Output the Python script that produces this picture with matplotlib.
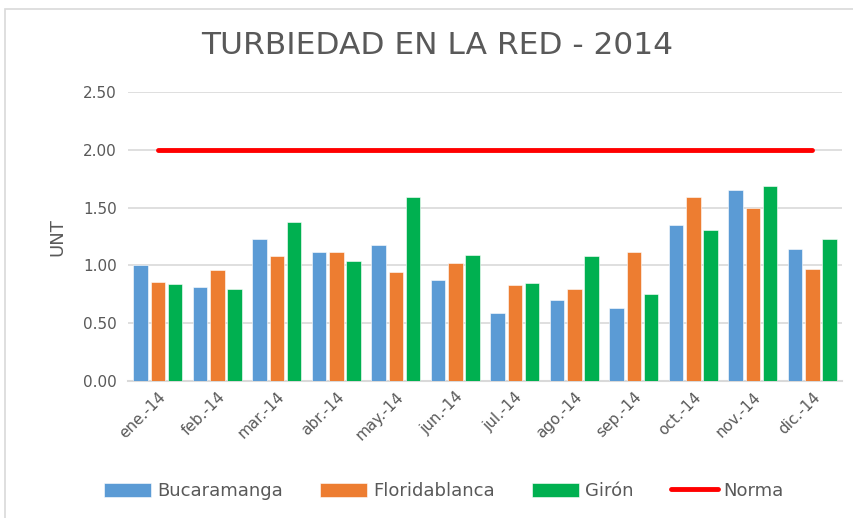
import numpy as np
import matplotlib as mpl
import matplotlib.pyplot as plt
from matplotlib.patches import Rectangle

months = ['ene.-14', 'feb.-14', 'mar.-14', 'abr.-14', 'may.-14', 'jun.-14',
          'jul.-14', 'ago.-14', 'sep.-14', 'oct.-14', 'nov.-14', 'dic.-14']
bucaramanga = [1.00, 0.81, 1.23, 1.12, 1.18, 0.87, 0.59, 0.70, 0.63, 1.35, 1.65, 1.14]
floridablanca = [0.86, 0.96, 1.08, 1.12, 0.94, 1.02, 0.83, 0.80, 1.12, 1.59, 1.50, 0.97]
giron = [0.84, 0.80, 1.38, 1.04, 1.59, 1.09, 0.85, 1.08, 0.75, 1.31, 1.69, 1.23]
norma = [2.0] * 12

# configuration
mpl.rcParams['font.family'] = 'DejaVu Sans'
txt = '#595959'

fig = plt.figure(figsize=(8.54, 5.18), dpi=100)
ax = fig.add_axes([0.150, 0.2645, 0.836, 0.5575])

x = np.arange(len(months))
w = 0.245
off = 0.29
b1 = ax.bar(x - off, bucaramanga, w, color='#5B9BD5', edgecolor='white', linewidth=0.4,
            label='Bucaramanga', zorder=3)
b2 = ax.bar(x, floridablanca, w, color='#ED7D31', edgecolor='white', linewidth=0.4,
            label='Floridablanca', zorder=3)
b3 = ax.bar(x + off, giron, w, color='#00B050', edgecolor='white', linewidth=0.4,
            label='Girón', zorder=3)
l1, = ax.plot(x, norma, color='#FF0000', linewidth=3.5, label='Norma', zorder=4,
              solid_capstyle='round')

# limits, ticks
ax.set_xlim(-0.5, 11.5)
ax.set_ylim(0, 2.5)
ax.set_yticks(np.arange(0, 2.51, 0.5))
ax.set_yticklabels(['%.2f' % v for v in np.arange(0, 2.51, 0.5)], color=txt, fontsize=11)
ax.set_xticks(x)
ax.set_xticklabels(months, rotation=45, ha='right', rotation_mode='anchor',
                   color=txt, fontsize=11)
ax.tick_params(length=0, pad=8)
ax.tick_params(axis='x', pad=6)

ax.grid(axis='y', color='#D9D9D9', linewidth=1.2, zorder=0)
for s in ['top', 'right', 'left']:
    ax.spines[s].set_visible(False)
ax.spines['bottom'].set_color('#D9D9D9')
ax.spines['bottom'].set_linewidth(1.5)

ax.set_ylabel('UNT', color=txt, fontsize=13, labelpad=12)

fig.text(0.512, 0.913, 'TURBIEDAD EN LA RED - 2014', ha='center', va='center',
         color=txt, fontsize=22.5)

# legend
ax.legend([b1, b2, b3, l1], ['Bucaramanga', 'Floridablanca', 'Girón', 'Norma'],
          loc='center', bbox_to_anchor=(0.52, 0.052), bbox_transform=fig.transFigure,
          ncol=4, frameon=False, fontsize=13, handlelength=2.6, handleheight=0.8,
          columnspacing=2.1, handletextpad=0.3, labelcolor=txt)

# chart area border
fig.patches.append(Rectangle((5 / 854, -0.1), 1.1, 1.0 - 9 / 518 + 0.1,
                             transform=fig.transFigure, fill=False,
                             edgecolor='#D9D9D9', linewidth=1.2))

plt.savefig('out.png', dpi=100)
